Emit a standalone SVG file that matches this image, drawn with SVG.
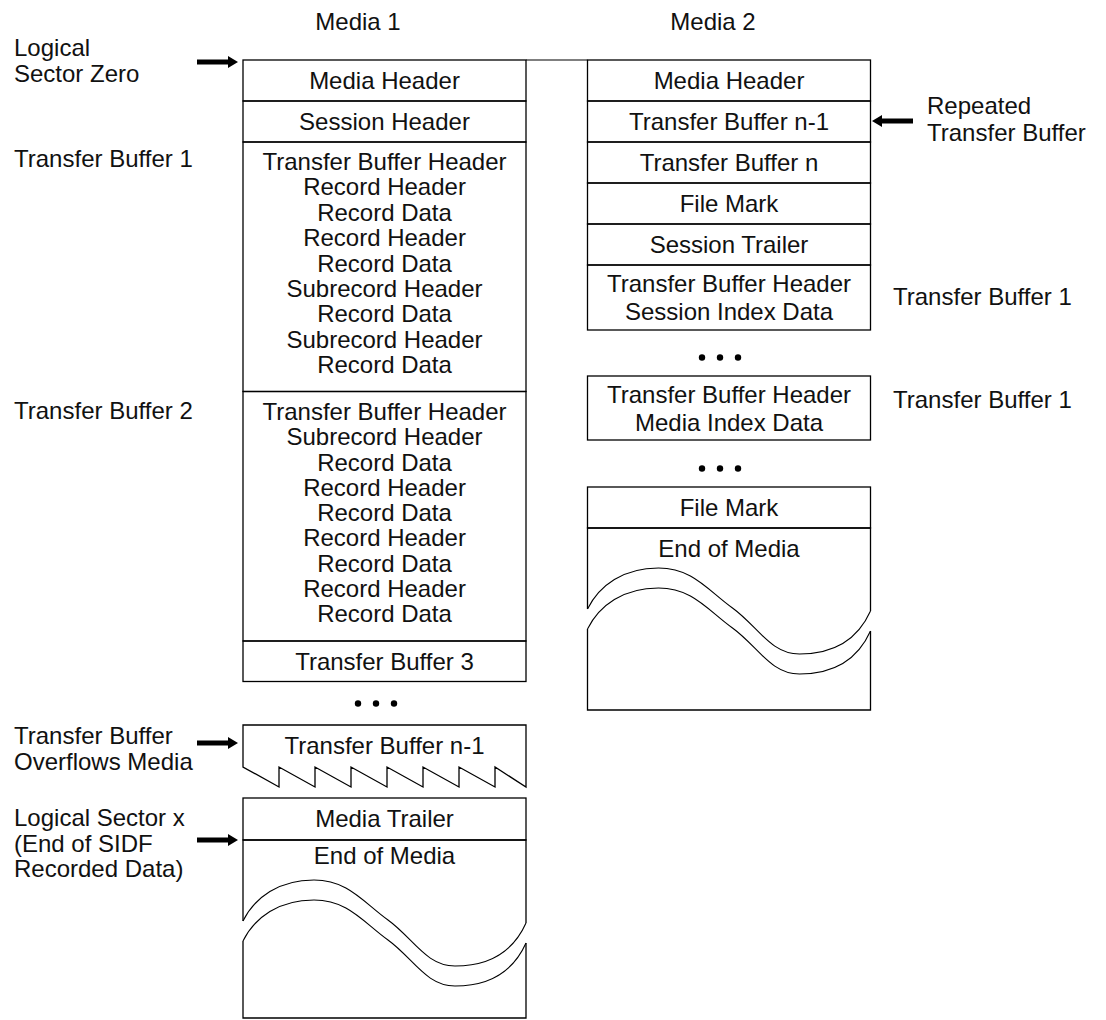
<svg xmlns="http://www.w3.org/2000/svg" xmlns:xlink="http://www.w3.org/1999/xlink" width="1106" height="1020" viewBox="0 0 1106 1020">
<style>
.bx{fill:none;stroke:#000;stroke-width:1.3}
.ln{fill:none;stroke:#000;stroke-width:1.2}
.wv{fill:none;stroke:#000;stroke-width:1.1}
.t{font-family:"Liberation Sans",Arial,sans-serif;font-size:24px;fill:#111}
.c{text-anchor:middle}
.ar{fill:#000}
.dot{fill:#000}
</style>
<defs>
<path id="arrR" class="ar" d="M-41,-2.5 H-10 V-6 L0,0 L-10,6 V2.5 H-41 Z"/>
<path id="arrL" class="ar" d="M41,-2.5 H10 V-6 L0,0 L10,6 V2.5 H41 Z"/>
<path id="wave" d="M0,81 C12,57 36,40 71,40 C105,40 120,62 145,80 C170,98 183,126 212,126 C245,126 270,112 283,83"/>
</defs>
<rect width="1106" height="1020" fill="#fff"/>

<g id="headings">
<text class="t c" x="358" y="30">Media 1</text>
<text class="t c" x="713" y="30">Media 2</text>
</g>

<g id="labels">
<text class="t" x="14" y="56">Logical</text>
<text class="t" x="14" y="82">Sector Zero</text>
<text class="t" x="14" y="167">Transfer Buffer 1</text>
<text class="t" x="14" y="419">Transfer Buffer 2</text>
<text class="t" x="14" y="744">Transfer Buffer</text>
<text class="t" x="14" y="770">Overflows Media</text>
<text class="t" x="14" y="826">Logical Sector x</text>
<text class="t" x="14" y="852">(End of SIDF</text>
<text class="t" x="14" y="877">Recorded Data)</text>
<text class="t" x="927" y="114">Repeated</text>
<text class="t" x="927" y="141">Transfer Buffer</text>
<text class="t" x="893" y="305">Transfer Buffer 1</text>
<text class="t" x="893" y="408">Transfer Buffer 1</text>
</g>

<g id="connectors">
<line class="ln" x1="526" y1="60" x2="587.5" y2="60"/>
<use xlink:href="#arrR" x="238" y="62"/>
<use xlink:href="#arrR" x="238" y="743"/>
<use xlink:href="#arrR" x="238" y="840"/>
<use xlink:href="#arrL" x="872" y="121"/>
</g>

<g id="m1-media-header">
<rect class="bx" x="243" y="60" width="283" height="41"/>
<text class="t c" x="384.5" y="89">Media Header</text>
</g>
<g id="m1-session-header">
<rect class="bx" x="243" y="101" width="283" height="41"/>
<text class="t c" x="384.5" y="130">Session Header</text>
</g>
<g id="m1-transfer-buffer-1">
<rect class="bx" x="243" y="142" width="283" height="249.5"/>
<text class="t c" x="384.5" y="170">Transfer Buffer Header</text>
<text class="t c" x="384.5" y="195.4">Record Header</text>
<text class="t c" x="384.5" y="220.8">Record Data</text>
<text class="t c" x="384.5" y="246.2">Record Header</text>
<text class="t c" x="384.5" y="271.6">Record Data</text>
<text class="t c" x="384.5" y="297">Subrecord Header</text>
<text class="t c" x="384.5" y="322.4">Record Data</text>
<text class="t c" x="384.5" y="347.8">Subrecord Header</text>
<text class="t c" x="384.5" y="373.2">Record Data</text>
</g>
<g id="m1-transfer-buffer-2">
<rect class="bx" x="243" y="391.5" width="283" height="249.5"/>
<text class="t c" x="384.5" y="420">Transfer Buffer Header</text>
<text class="t c" x="384.5" y="445.25">Subrecord Header</text>
<text class="t c" x="384.5" y="470.5">Record Data</text>
<text class="t c" x="384.5" y="495.75">Record Header</text>
<text class="t c" x="384.5" y="521">Record Data</text>
<text class="t c" x="384.5" y="546.25">Record Header</text>
<text class="t c" x="384.5" y="571.5">Record Data</text>
<text class="t c" x="384.5" y="596.75">Record Header</text>
<text class="t c" x="384.5" y="622">Record Data</text>
</g>
<g id="m1-transfer-buffer-3">
<rect class="bx" x="243" y="641" width="283" height="40.5"/>
<text class="t c" x="384.5" y="669.5">Transfer Buffer 3</text>
</g>
<g id="m1-dots">
<circle class="dot" cx="358" cy="703.5" r="3.2"/>
<circle class="dot" cx="376" cy="703.5" r="3.2"/>
<circle class="dot" cx="394" cy="703.5" r="3.2"/>
</g>
<g id="m1-transfer-buffer-n-1">
<path class="bx" d="M243,725 L243,767 L279,787 L279,767 L315,787 L315,767 L351,787 L351,767 L387,787 L387,767 L423,787 L423,767 L459,787 L459,767 L495,787 L495,767 L526,787 L526,725 Z"/>
<text class="t c" x="384.5" y="754">Transfer Buffer n-1</text>
</g>
<g id="m1-media-trailer">
<rect class="bx" x="243" y="798" width="283" height="42"/>
<text class="t c" x="384.5" y="827">Media Trailer</text>
</g>
<g id="m1-end-of-media">
<path class="bx" d="M243,921 V840 H526 V923 M243,941 V1018 H526 V943"/>
<use xlink:href="#wave" class="wv" x="243" y="840"/>
<use xlink:href="#wave" class="wv" x="243" y="860"/>
<text class="t c" x="384.5" y="864">End of Media</text>
</g>

<g id="m2-media-header">
<rect class="bx" x="587.5" y="60" width="283" height="41"/>
<text class="t c" x="729" y="89">Media Header</text>
</g>
<g id="m2-transfer-buffer-n-1">
<rect class="bx" x="587.5" y="101" width="283" height="41"/>
<text class="t c" x="729" y="130">Transfer Buffer n-1</text>
</g>
<g id="m2-transfer-buffer-n">
<rect class="bx" x="587.5" y="142" width="283" height="41"/>
<text class="t c" x="729" y="171">Transfer Buffer n</text>
</g>
<g id="m2-file-mark">
<rect class="bx" x="587.5" y="183" width="283" height="41"/>
<text class="t c" x="729" y="212">File Mark</text>
</g>
<g id="m2-session-trailer">
<rect class="bx" x="587.5" y="224" width="283" height="41"/>
<text class="t c" x="729" y="253">Session Trailer</text>
</g>
<g id="m2-session-index">
<rect class="bx" x="587.5" y="265" width="283" height="65"/>
<text class="t c" x="729" y="292">Transfer Buffer Header</text>
<text class="t c" x="729" y="320">Session Index Data</text>
</g>
<g id="m2-dots-1">
<circle class="dot" cx="702" cy="357.5" r="3.2"/>
<circle class="dot" cx="720" cy="357.5" r="3.2"/>
<circle class="dot" cx="738" cy="357.5" r="3.2"/>
</g>
<g id="m2-media-index">
<rect class="bx" x="587.5" y="376" width="283" height="64"/>
<text class="t c" x="729" y="402.5">Transfer Buffer Header</text>
<text class="t c" x="729" y="430.5">Media Index Data</text>
</g>
<g id="m2-dots-2">
<circle class="dot" cx="702" cy="468.5" r="3.2"/>
<circle class="dot" cx="720" cy="468.5" r="3.2"/>
<circle class="dot" cx="738" cy="468.5" r="3.2"/>
</g>
<g id="m2-file-mark-2">
<rect class="bx" x="587.5" y="487" width="283" height="41"/>
<text class="t c" x="729" y="516">File Mark</text>
</g>
<g id="m2-end-of-media">
<path class="bx" d="M587.5,609 V528 H870.5 V611 M587.5,629 V710 H870.5 V631"/>
<use xlink:href="#wave" class="wv" x="587.5" y="528"/>
<use xlink:href="#wave" class="wv" x="587.5" y="548"/>
<text class="t c" x="729" y="557">End of Media</text>
</g>
</svg>
